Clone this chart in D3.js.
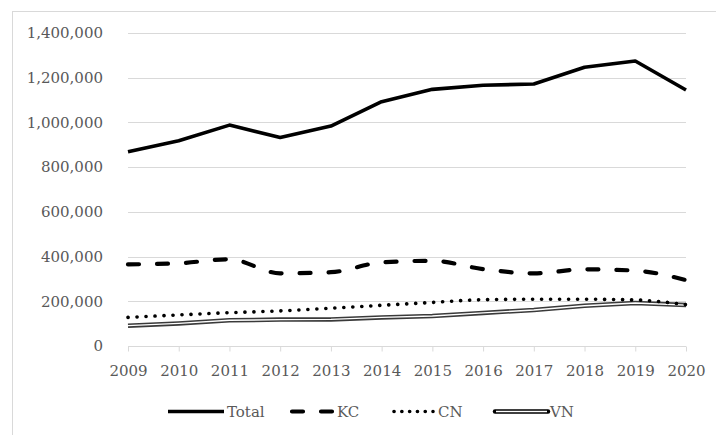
<!DOCTYPE html>
<html>
<head>
<meta charset="utf-8">
<script src="https://cdn.jsdelivr.net/npm/d3@7"></script>
<style>
  body { margin: 0; background: #fff; }
  text { font-family: "DejaVu Serif", serif; fill: #595959; }
</style>
</head>
<body>
<svg id="chart" width="716" height="435"></svg>
<script>
var years = [2009, 2010, 2011, 2012, 2013, 2014, 2015, 2016, 2017, 2018, 2019, 2020]
var total = [869000, 918000, 988000, 933000, 984000, 1093000, 1148000, 1166000, 1172000, 1247000, 1275000, 1145000]
var kc = [365000, 370000, 388000, 325000, 330000, 374000, 381000, 344000, 325000, 343000, 337000, 295000]
var cn = [128000, 139000, 149000, 157000, 169000, 182000, 195000, 207000, 209000, 209000, 206000, 185000]
var vn = [91000, 101000, 115000, 118000, 119000, 128000, 134000, 148000, 161000, 180000, 192000, 183000]
var yTicks = [0, 200000, 400000, 600000, 800000, 1000000, 1200000, 1400000]
var seriesNames = ['Total', 'KC', 'CN', 'VN']

var svg = d3.select('#chart')
  , plotLeft = 128, plotRight = 686, plotTop = 33, plotBottom = 346

var x = d3.scalePoint().domain(years).range([plotLeft, plotRight])
var y = d3.scaleLinear().domain([0, 1400000]).range([plotBottom, plotTop])

// outer frame (right and bottom edges run off the picture)
svg.append('rect')
  .attr('x', 12.5).attr('y', 11.5)
  .attr('width', 720).attr('height', 440)
  .attr('fill', 'none').attr('stroke', '#d9d9d9')

// gridlines
svg.append('g').selectAll('line').data(yTicks.slice(1))
  .enter().append('line')
  .attr('x1', plotLeft).attr('x2', plotRight)
  .attr('y1', function(d) { return Math.round(y(d)) + 0.5 })
  .attr('y2', function(d) { return Math.round(y(d)) + 0.5 })
  .attr('stroke', '#d9d9d9').attr('stroke-width', 1)

// y labels
svg.append('g').selectAll('text').data(yTicks)
  .enter().append('text')
  .attr('x', 103).attr('y', function(d) { return y(d) })
  .attr('dy', '0.35em').attr('text-anchor', 'end')
  .style('font-size', '15px')
  .text(function(d) { return d3.format(',')(d) })

// x axis
var xAxis = svg.append('g')
  .attr('transform', 'translate(0,' + (Math.round(plotBottom) + 0.5) + ')')
  .call(d3.axisBottom(x).tickSize(5).tickPadding(14))
xAxis.select('.domain').attr('stroke', '#d9d9d9').attr('d', 'M' + plotLeft + ',0H' + plotRight)
xAxis.selectAll('.tick line').attr('stroke', '#d9d9d9')
xAxis.selectAll('.tick text')
  .style('font-size', '15px').style('font-family', '"DejaVu Serif", serif')
  .attr('fill', '#595959')

var line = d3.line()
  .x(function(d, i) { return x(years[i]) })
  .y(function(d) { return y(d) })
var smooth = d3.line()
  .x(function(d, i) { return x(years[i]) })
  .y(function(d) { return y(d) })
  .curve(d3.curveMonotoneX)

var plot = svg.append('g')

// VN: double line
plot.append('path').attr('d', line(vn))
  .attr('fill', 'none').attr('stroke', '#3a3a3a').attr('stroke-width', 4.5)
plot.append('path').attr('d', line(vn))
  .attr('fill', 'none').attr('stroke', '#fff').attr('stroke-width', 1.4)

// CN: dotted
plot.append('path').attr('d', smooth(cn))
  .attr('fill', 'none').attr('stroke', '#000').attr('stroke-width', 3.6)
  .attr('stroke-linecap', 'round').attr('stroke-dasharray', '0.1,8.9')

// KC: dashed
plot.append('path').attr('d', smooth(kc))
  .attr('fill', 'none').attr('stroke', '#000').attr('stroke-width', 4.2)
  .attr('stroke-linecap', 'round').attr('stroke-dasharray', '11,18')

// Total: solid
plot.append('path').attr('d', line(total))
  .attr('fill', 'none').attr('stroke', '#000').attr('stroke-width', 3.6)
  .attr('stroke-linejoin', 'round')

// legend
var legendY = 411.5
  , legendX = [168, 290, 393, 495]
  , legend = svg.append('g')

legend.append('line').attr('x1', legendX[0]).attr('x2', legendX[0] + 56)
  .attr('y1', legendY).attr('y2', legendY)
  .attr('stroke', '#000').attr('stroke-width', 3.6)
legend.append('line').attr('x1', legendX[1] + 2).attr('x2', legendX[1] + 42)
  .attr('y1', legendY).attr('y2', legendY)
  .attr('stroke', '#000').attr('stroke-width', 4.2)
  .attr('stroke-linecap', 'round').attr('stroke-dasharray', '11,18')
legend.append('line').attr('x1', legendX[2] + 1).attr('x2', legendX[2] + 40)
  .attr('y1', legendY).attr('y2', legendY)
  .attr('stroke', '#000').attr('stroke-width', 3.6)
  .attr('stroke-linecap', 'round').attr('stroke-dasharray', '0.1,7.7')
legend.append('line').attr('x1', legendX[3]).attr('x2', legendX[3] + 53)
  .attr('y1', legendY).attr('y2', legendY)
  .attr('stroke', '#000').attr('stroke-width', 4.5).attr('stroke-linecap', 'round')
legend.append('line').attr('x1', legendX[3] + 1).attr('x2', legendX[3] + 52)
  .attr('y1', legendY).attr('y2', legendY)
  .attr('stroke', '#fff').attr('stroke-width', 1.4)

var textX = [227, 337, 438, 550]
legend.selectAll('text').data(seriesNames)
  .enter().append('text')
  .attr('x', function(d, i) { return textX[i] })
  .attr('y', legendY).attr('dy', '0.35em')
  .style('font-size', '15px')
  .text(function(d) { return d })
</script>
</body>
</html>
